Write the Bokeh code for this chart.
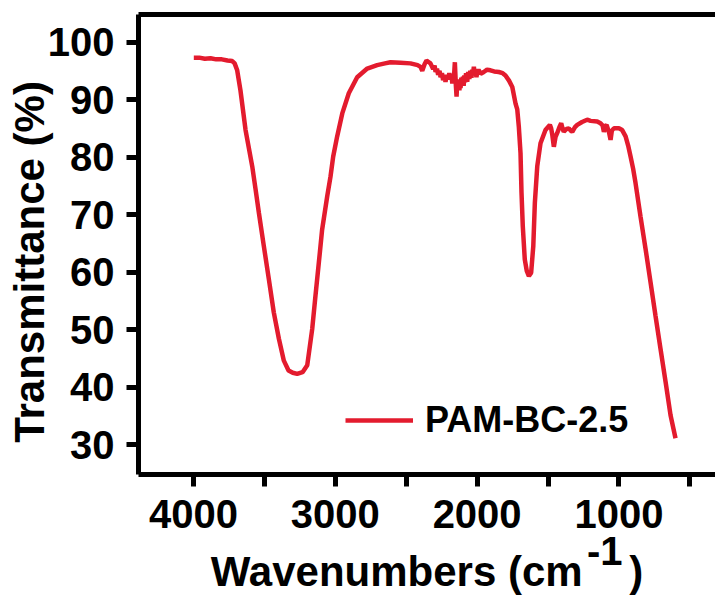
from bokeh.plotting import figure
from bokeh.models import Range1d, LinearAxis, FixedTicker, Legend, LegendItem
from bokeh.embed import file_html
from bokeh.resources import INLINE

# ---- data ----
wavenumber = [3998, 3960, 3920, 3880, 3840, 3800, 3760, 3727, 3710, 3692, 3669, 3633,
              3586, 3563, 3539, 3504, 3469, 3434, 3398, 3363, 3330, 3300, 3269, 3231,
              3198, 3163, 3140, 3116, 3093, 3057, 3034, 3015, 2987, 2951, 2905, 2846,
              2775, 2705, 2650, 2611, 2540, 2470, 2420, 2399, 2387, 2370, 2357, 2340,
              2329, 2310, 2300, 2293, 2283, 2275, 2265, 2258, 2248, 2240, 2231, 2223,
              2214, 2205, 2196, 2188, 2181, 2175, 2170, 2165, 2157, 2150, 2145, 2140,
              2135, 2130, 2125, 2121, 2117, 2111, 2105, 2100, 2095, 2090, 2085, 2078,
              2070, 2063, 2055, 2048, 2040, 2035, 2030, 2023, 2016, 2010, 2005, 2000,
              1990, 1975, 1953, 1930, 1906, 1880, 1847, 1820, 1800,
              1775, 1752, 1729, 1717, 1706, 1694, 1687, 1678, 1664, 1650, 1635, 1619,
              1604, 1593, 1576, 1553, 1518, 1487, 1478, 1470, 1459, 1447, 1435, 1420,
              1407, 1398, 1389, 1370, 1353, 1340, 1329, 1310, 1294, 1260, 1224, 1200,
              1153, 1130, 1115, 1106, 1095, 1087, 1070, 1059, 1050, 1036, 1000, 977,
              953, 935, 918, 900, 883, 848, 812, 777, 742, 707, 671, 636, 601]
transmittance = [97.3, 97.3, 97.1, 97.2, 97.0, 97.0, 96.8, 96.7, 96.3, 95.1, 91.6, 84.7,
                 78.4, 74.5, 70.3, 64.5, 58.8, 53.0, 48.4, 44.6, 42.9, 42.5, 42.3, 42.6,
                 43.8, 50.1, 55.9, 61.7, 67.4, 73.2, 76.6, 80.1, 83.6, 87.6, 91.1, 93.9,
                 95.4, 96.0, 96.3, 96.5, 96.4, 96.3, 96.0, 95.7, 95.0, 96.2, 96.8, 96.5,
                 96.3, 95.3, 95.9, 94.8, 95.4, 94.3, 95.0, 93.9, 94.6, 93.4, 94.2, 93.1,
                 94.3, 93.5, 94.6, 93.7, 94.4, 92.8, 94.2, 93.2, 96.5, 92.5, 90.5, 93.4,
                 91.8, 93.5, 91.6, 93.0, 92.0, 93.8, 92.6, 94.0, 92.4, 94.2, 93.0, 94.6,
                 93.1, 94.8, 93.6, 95.0, 93.8, 95.2, 94.3, 95.7, 94.2, 95.1, 93.9, 94.6,
                 95.2, 94.5, 94.8, 95.2, 95.1, 94.9, 94.8, 94.6, 94.2,
                 93.3, 92.2, 89.3, 88.3, 85.3, 80.7, 73.8, 68.0, 62.2, 60.2, 59.3, 59.9,
                 64.5, 72.0, 78.4, 82.4, 84.7, 85.6, 85.0, 83.9, 81.8, 83.5, 84.2, 85.2,
                 85.9, 85.0, 84.4, 84.9, 85.0, 84.6, 84.4, 85.2, 85.6, 86.1, 86.5, 86.3,
                 86.2, 85.9, 85.5, 84.4, 85.4, 85.6, 84.3, 83.0, 84.6, 85.0, 85.0, 84.7,
                 83.6, 82.0, 80.1, 78.0, 75.5, 69.7, 64.0, 58.2, 52.4, 46.7, 40.9, 35.1, 31.1]
series_name = "PAM-BC-2.5"
x_major_ticks = [1000, 2000, 3000, 4000]
x_minor_ticks = [500, 1500, 2500, 3500]
y_ticks = [30, 40, 50, 60, 70, 80, 90, 100]
x_title_main = "Wavenumbers (cm"
x_title_sup = "-1"
x_title_end = ")"
y_title = "Transmittance (%)"

FONT = "Liberation Sans"
RED = "#E31B2E"
NB = "\u00a0"

p = figure(width=715, height=597, output_backend="svg", toolbar_location=None,
           x_range=Range1d(4388, 319), y_range=Range1d(24.8, 104.8),
           min_border_left=138, min_border_right=0, min_border_top=14, min_border_bottom=121,
           x_axis_type=None, y_axis_type=None)
p.outline_line_color = None
p.grid.visible = False
p.background_fill_color = "white"

def style_axis(ax):
    ax.axis_line_width = 5
    ax.axis_line_color = "black"
    ax.major_tick_line_width = 5
    ax.minor_tick_line_width = 5
    ax.major_tick_in = 0
    ax.minor_tick_in = 0
    ax.major_tick_out = 12
    ax.minor_tick_out = 12
    ax.major_label_text_font = FONT
    ax.major_label_text_font_style = "bold"
    ax.major_label_text_font_size = "40px"
    ax.major_label_text_color = "black"

# bottom axis; its own label carries the main part of the x title
xaxis = LinearAxis(ticker=FixedTicker(ticks=x_major_ticks, minor_ticks=x_minor_ticks))
style_axis(xaxis)
xaxis.major_label_standoff = 13
xaxis.axis_label = x_title_main + NB * 4 + x_title_end
xaxis.axis_label_text_font = FONT
xaxis.axis_label_text_font_style = "bold"
xaxis.axis_label_text_font_size = "42px"
xaxis.axis_label_text_color = "black"
xaxis.axis_label_standoff = 17
p.add_layout(xaxis, "below")

# second, invisible bottom axis whose label is the raised "-1" exponent
xsup = LinearAxis(ticker=FixedTicker(ticks=[], minor_ticks=[]))
xsup.axis_line_color = None
xsup.major_tick_out = 0
xsup.minor_tick_out = 0
xsup.major_label_standoff = 0
xsup.major_label_text_font_size = "0px"
xsup.axis_label = NB * 32 + x_title_sup
xsup.axis_label_text_font = FONT
xsup.axis_label_text_font_style = "bold"
xsup.axis_label_text_font_size = "40px"
xsup.axis_label_text_color = "black"
xsup.axis_label_standoff = -69
p.add_layout(xsup, "below")

yaxis = LinearAxis(ticker=FixedTicker(ticks=y_ticks, minor_ticks=[]))
style_axis(yaxis)
yaxis.major_label_standoff = 12
yaxis.axis_label = y_title + NB * 3
yaxis.axis_label_text_font = FONT
yaxis.axis_label_text_font_style = "bold"
yaxis.axis_label_text_font_size = "42px"
yaxis.axis_label_text_color = "black"
yaxis.axis_label_standoff = -8
p.add_layout(yaxis, "left")

top = LinearAxis(ticker=FixedTicker(ticks=[], minor_ticks=[]))
top.axis_line_width = 5
top.major_tick_out = 0
top.minor_tick_out = 0
top.major_label_standoff = 0
top.major_label_text_font_size = "0px"
p.add_layout(top, "above")

r = p.line(wavenumber, transmittance, line_color=RED, line_width=4.5)

legend = Legend(items=[LegendItem(label=series_name, renderers=[r])],
                location=(207, 33), background_fill_alpha=0, border_line_color=None,
                glyph_width=68, glyph_height=20, label_standoff=12, padding=0, margin=0,
                spacing=0, label_text_font=FONT, label_text_font_style="bold",
                label_text_font_size="36px", label_text_color="black")
p.add_layout(legend)

open("out.html", "w").write(file_html(p, INLINE))
